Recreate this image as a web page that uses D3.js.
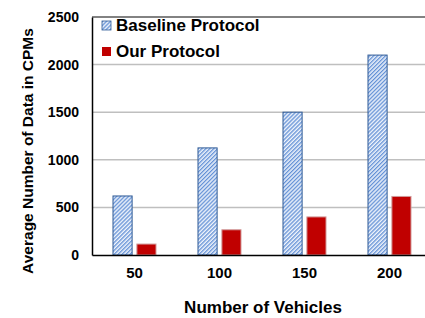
<!DOCTYPE html>
<html>
<head>
<meta charset="utf-8">
<script src="https://cdn.jsdelivr.net/npm/d3@7"></script>
<style>
  body { margin: 0; background: #fff; }
  text { font-family: "Liberation Sans", Arial, sans-serif; font-weight: bold; fill: #000; }
</style>
</head>
<body>
<script>
// chart data
var vehicles = ["50", "100", "150", "200"];
var seriesNames = ["Baseline Protocol", "Our Protocol"];
var baseline = [620, 1125, 1500, 2100];
var ours = [115, 265, 400, 615];
var yTicks = [0, 500, 1000, 1500, 2000, 2500];

var svgWidth = 425, svgHeight = 318;
var margin = { top: 17, left: 92 };
var width = 340, height = 238;

var svg = d3.select("body").append("svg")
    .attr("width", svgWidth)
    .attr("height", svgHeight);

// hatch pattern for baseline bars
var defs = svg.append("defs");
var pat = defs.append("pattern")
    .attr("id", "hatch")
    .attr("patternUnits", "userSpaceOnUse")
    .attr("width", 2.8)
    .attr("height", 2.8)
    .attr("patternTransform", "rotate(45)");
pat.append("rect").attr("width", 2.8).attr("height", 2.8).attr("fill", "#eef3fb");
pat.append("rect").attr("width", 1.3).attr("height", 2.8).attr("fill", "#6391d6");

var chartGroup = svg.append("g").attr("transform", `translate(${margin.left}, ${margin.top})`);

var x = d3.scaleBand().domain(vehicles).range([0, width])
    .paddingInner(0.494).paddingOuter(0.247);
var xSub = d3.scaleBand().domain(seriesNames).range([0, x.bandwidth()]).paddingInner(0.2);
var y = d3.scaleLinear().domain([0, 2500]).range([height, 0]);

// gridlines
chartGroup.selectAll("line.grid")
    .data(yTicks.slice(1, -1))
    .enter().append("line")
    .attr("class", "grid")
    .attr("x1", 0).attr("x2", width)
    .attr("y1", d => y(d)).attr("y2", d => y(d))
    .attr("stroke", "#bfbfbf").attr("stroke-width", 1.5);

// top border
chartGroup.append("line")
    .attr("x1", 0).attr("x2", width)
    .attr("y1", y(2500)).attr("y2", y(2500))
    .attr("stroke", "#595959").attr("stroke-width", 1.5);

// bars
var rows = vehicles.map((v, i) => ({ v: v, vals: [baseline[i], ours[i]] }));
var groups = chartGroup.selectAll("g.grp")
    .data(rows)
    .enter().append("g")
    .attr("transform", d => `translate(${x(d.v)},0)`);

groups.selectAll("rect")
    .data(d => d.vals.map((val, j) => ({ s: seriesNames[j], val: val })))
    .enter().append("rect")
    .attr("x", d => xSub(d.s))
    .attr("y", d => y(d.val))
    .attr("width", xSub.bandwidth())
    .attr("height", d => height - y(d.val))
    .attr("fill", d => d.s === seriesNames[0] ? "url(#hatch)" : "#c00000")
    .attr("stroke", d => d.s === seriesNames[0] ? "#2f5a96" : "#d19a9a")
    .attr("stroke-width", 1);

// axes
var xAxis = d3.axisBottom(x).tickSize(0).tickPadding(12);
var yAxis = d3.axisLeft(y).tickValues(yTicks).tickFormat(d3.format("d")).tickSize(0).tickPadding(13);

var gx = chartGroup.append("g").attr("transform", `translate(0, ${height})`).call(xAxis);
gx.select(".domain").attr("stroke", "#000").attr("stroke-width", 1.5);
gx.selectAll("text").style("font-size", "15px").style("font-family", "Liberation Sans, Arial, sans-serif").style("font-weight", "bold");

var gy = chartGroup.append("g").call(yAxis);
gy.select(".domain").attr("stroke", "#000").attr("stroke-width", 1.5);
gy.selectAll("text").style("font-size", "14px").style("font-family", "Liberation Sans, Arial, sans-serif").style("font-weight", "bold");

// legend
var legend = svg.append("g").attr("transform", "translate(102, 21)");
seriesNames.forEach(function(name, i) {
    var row = legend.append("g").attr("transform", `translate(0, ${i * 26})`);
    row.append("rect")
        .attr("width", 9).attr("height", 9)
        .attr("fill", i === 0 ? "url(#hatch)" : "#c00000")
        .attr("stroke", i === 0 ? "#2f5a96" : "none")
        .attr("stroke-width", 0.8);
    row.append("text")
        .attr("x", 14).attr("y", 4.5)
        .attr("dy", "0.35em")
        .style("font-size", "17px")
        .text(name);
});

// axis titles
svg.append("text")
    .attr("transform", "rotate(-90)")
    .attr("x", -151)
    .attr("y", 33)
    .attr("text-anchor", "middle")
    .style("font-size", "15.5px")
    .text("Average Number of Data in CPMs");

svg.append("text")
    .attr("x", 263)
    .attr("y", 313)
    .attr("text-anchor", "middle")
    .style("font-size", "17px")
    .text("Number of Vehicles");
</script>
</body>
</html>
